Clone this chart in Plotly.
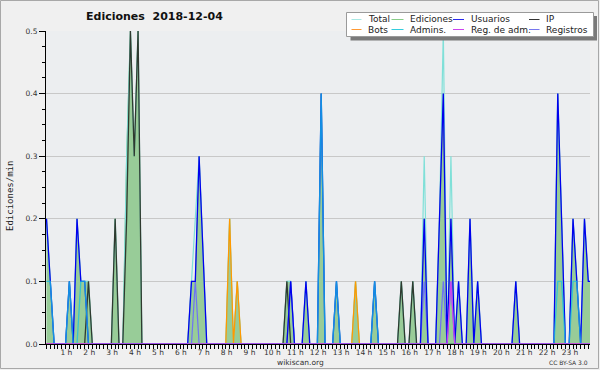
import plotly.graph_objects as go

# ---------------- data (10-minute bins, edits per minute) ----------------
N_BINS = 144  # 00:00 .. 23:50
hour_ticks = list(range(1, 24))
hour_labels = [f"{h} h" for h in hour_ticks]
y_ticks = [0.0, 0.1, 0.2, 0.3, 0.4, 0.5]
y_labels = ["0.0", "0.1", "0.2", "0.3", "0.4", "0.5"]

ediciones = {0: 0.2, 1: 0.1, 6: 0.1, 8: 0.2, 9: 0.1, 10: 0.1, 11: 0.1, 18: 0.2,
             21: 0.3, 22: 0.5, 23: 0.3, 24: 0.5, 38: 0.1, 39: 0.1, 40: 0.3, 41: 0.15,
             48: 0.2, 50: 0.1, 63: 0.1, 64: 0.1, 68: 0.1, 72: 0.4, 76: 0.1, 81: 0.1,
             86: 0.1, 93: 0.1, 96: 0.1, 99: 0.2, 103: 0.2, 104: 0.4, 106: 0.2, 108: 0.1,
             111: 0.2, 113: 0.1, 123: 0.1, 134: 0.4, 135: 0.2, 138: 0.2, 139: 0.1,
             141: 0.2, 142: 0.1, 143: 0.1}
total = {0: 0.2, 1: 0.1, 6: 0.1, 8: 0.2, 9: 0.1, 10: 0.1, 11: 0.1, 18: 0.2,
         21: 0.3, 22: 0.5, 23: 0.3, 24: 0.5, 38: 0.1, 39: 0.2, 40: 0.3, 41: 0.15,
         48: 0.2, 50: 0.1, 63: 0.1, 64: 0.1, 68: 0.1, 72: 0.4, 76: 0.1, 81: 0.1,
         86: 0.1, 93: 0.1, 96: 0.1, 99: 0.3, 103: 0.2, 104: 0.5, 106: 0.3, 108: 0.1,
         111: 0.2, 113: 0.1, 123: 0.1, 134: 0.4, 135: 0.2, 138: 0.2, 139: 0.1,
         141: 0.2, 142: 0.1, 143: 0.1}
usuarios = {0: 0.2, 1: 0.1, 6: 0.1, 8: 0.2, 9: 0.1, 10: 0.1, 38: 0.1, 39: 0.1,
            40: 0.3, 41: 0.15, 64: 0.1, 68: 0.1, 72: 0.4, 76: 0.1, 86: 0.1, 99: 0.2,
            103: 0.2, 104: 0.4, 106: 0.2, 108: 0.1, 111: 0.2, 113: 0.1, 123: 0.1,
            134: 0.4, 135: 0.2, 138: 0.2, 139: 0.1, 141: 0.2, 142: 0.1, 143: 0.1}
ip = {11: 0.1, 18: 0.2, 21: 0.2, 22: 0.5, 23: 0.3, 24: 0.5, 63: 0.1, 93: 0.1, 96: 0.1}
bots = {48: 0.2, 50: 0.1, 81: 0.1}
admins = {0: 0.1, 1: 0.1, 6: 0.1, 9: 0.1, 10: 0.1, 72: 0.4, 76: 0.1, 86: 0.1,
          134: 0.1, 135: 0.1, 138: 0.1, 139: 0.1}
reg_adm = {106: 0.1}
registros = {39: 0.1, 64: 0.1, 99: 0.1, 104: 0.1, 106: 0.1}


def expand(d):
    return [d.get(i, 0.0) for i in range(N_BINS)]


bins = list(range(N_BINS))

# ---------------- geometry helpers (pixels -> paper) ----------------
W, H = 600, 370
ML, MR, MT, MB = 46, 10, 31, 26
PW, PH = W - ML - MR, H - MT - MB


def px(x):
    return (x - ML) / PW


def py(y):
    return (H - MB - y) / PH


fig = go.Figure()

# Ediciones filled area
fig.add_trace(go.Scatter(x=bins, y=expand(ediciones), mode="lines", fill="tozeroy",
                         fillcolor="#98cc98", line=dict(color="#7dbb7d", width=1),
                         showlegend=False, hoverinfo="skip"))

series = [
    ("Total", total, "#7fe0d8", 1.2, 1.0),
    ("IP", ip, "#2f3a2f", 1.3, 1.0),
    ("Bots", bots, "#ff9900", 1.3, 1.0),
    ("Registros", registros, "#6a6aff", 1.2, 0.9),
    ("Usuarios", usuarios, "#0000ee", 1.3, 1.0),
    ("Admins.", admins, "#18c0e0", 1.3, 0.75),
    ("Reg. de adm.", reg_adm, "#cc44ee", 1.3, 1.0),
]
for name, d, color, w, op in series:
    fig.add_trace(go.Scatter(x=bins, y=expand(d), mode="lines",
                             line=dict(color=color, width=w), opacity=op,
                             showlegend=False, hoverinfo="skip"))

tick_font = dict(family="DejaVu Sans", size=7.5, color="#333333")

fig.update_layout(
    width=W, height=H, autosize=False,
    margin=dict(l=ML, r=MR, t=MT, b=MB),
    paper_bgcolor="#f0f0f0", plot_bgcolor="#eceef0",
    xaxis=dict(range=[-0.13, 142.45], showgrid=False, zeroline=False,
               showline=True, linecolor="black", linewidth=1,
               tickmode="array", tickvals=[h * 6 for h in hour_ticks], ticktext=hour_labels,
               ticks="outside", ticklen=4, tickcolor="black", tickwidth=1,
               ticklabelshift=-3, ticklabelstandoff=-3, tickfont=tick_font,
               minor=dict(tickmode="linear", tick0=0, dtick=1, ticks="outside",
                          ticklen=4, tickcolor="black", tickwidth=1, showgrid=False)),
    yaxis=dict(range=[0, 0.5], zeroline=False, showline=True, linecolor="black", linewidth=1,
               tickmode="array", tickvals=y_ticks, ticktext=y_labels,
               ticks="outside", ticklen=6, tickcolor="black", tickwidth=1,
               tickfont=tick_font, showgrid=True, gridcolor="#c8c8c8", gridwidth=1,
               minor=dict(tickmode="linear", tick0=0, dtick=0.025, ticks="outside",
                          ticklen=3, tickcolor="black", tickwidth=1, showgrid=False)),
)

shapes = []
annotations = []

# outer frame
shapes.append(dict(type="rect", xref="paper", yref="paper", x0=px(0.5), x1=px(598.5),
                   y0=py(0.5), y1=py(368.5), line=dict(color="#a8a8a8", width=1),
                   fillcolor="rgba(0,0,0,0)", layer="above"))

# legend box with shadow
shapes.append(dict(type="rect", xref="paper", yref="paper", x0=px(350.5), x1=px(597),
                   y0=py(16), y1=py(40.5), line=dict(width=0), fillcolor="#7a7a7a", layer="above"))
shapes.append(dict(type="rect", xref="paper", yref="paper", x0=px(346.5), x1=px(593.5),
                   y0=py(12.5), y1=py(36.5), line=dict(color="#9a9a9a", width=1),
                   fillcolor="white", layer="above"))

legend_items = [
    ("Total", "#a8e8e4", 0, 0), ("Ediciones", "#88cc88", 1, 0),
    ("Usuarios", "#2a2aee", 2, 0), ("IP", "#333333", 3, 0),
    ("Bots", "#ff9933", 0, 1), ("Admins.", "#33ccdd", 1, 1),
    ("Reg. de adm.", "#cc44ee", 2, 1), ("Registros", "#7777ee", 3, 1),
]
col_line = [(351.5, 361.5), (391.5, 403.5), (453, 464), (529, 539.5)]
col_text = [366, 407.5, 468.5, 543.5]
row_y = [19.5, 29.5]
for name, color, c, r in legend_items:
    x0, x1 = col_line[c]
    shapes.append(dict(type="line", xref="paper", yref="paper", x0=px(x0), x1=px(x1),
                       y0=py(row_y[r]), y1=py(row_y[r]), line=dict(color=color, width=1),
                       layer="above"))
    annotations.append(dict(text=name, xref="paper", yref="paper", x=px(col_text[c]),
                            y=py(row_y[r]), xanchor="left", yanchor="middle", showarrow=False,
                            font=dict(family="DejaVu Sans", size=9, color="#222222")))

# title
annotations.append(dict(text="Ediciones\u00a0 2018-12-04", xref="paper", yref="paper",
                        x=px(154), y=py(16.5), xanchor="center", yanchor="middle",
                        showarrow=False,
                        font=dict(family="DejaVu Sans", size=11, color="#111111",
                                  weight="bold")))
# y axis title
annotations.append(dict(text="Ediciones/min", xref="paper", yref="paper", x=px(10),
                        y=py(196), xanchor="center", yanchor="middle", textangle=-90,
                        showarrow=False,
                        font=dict(family="DejaVu Sans Mono", size=9, color="#222222")))
# footer texts
annotations.append(dict(text="wikiscan.org", xref="paper", yref="paper", x=px(300),
                        y=py(362), xanchor="center", yanchor="middle", showarrow=False,
                        font=dict(family="DejaVu Sans", size=7.5, color="#333333")))
annotations.append(dict(text="CC BY-SA 3.0", xref="paper", yref="paper", x=px(589.5),
                        y=py(362.5), xanchor="right", yanchor="middle", showarrow=False,
                        font=dict(family="DejaVu Sans", size=6, color="#333333")))

fig.update_layout(shapes=shapes, annotations=annotations)

fig.write_html("out.html", config={"displayModeBar": False},
               post_script="document.body.style.margin='0px';"
                           "document.body.style.overflow='hidden';")
